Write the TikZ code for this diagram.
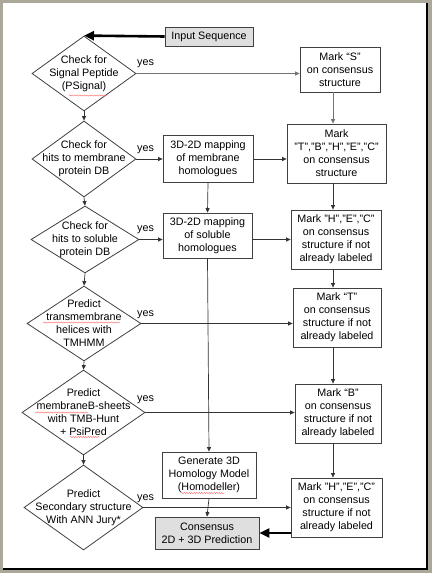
\documentclass[tikz,border=0pt]{standalone}
\usepackage{fontspec}
\setmainfont{Liberation Sans}
\usetikzlibrary{shapes.geometric,arrows.meta,decorations.pathmorphing}
\definecolor{framegray}{RGB}{172,168,153}
\begin{document}
\begin{tikzpicture}[x=1bp,y=-1bp,
	font=\fontsize{10.8}{13}\selectfont,
	box/.style={draw=black!75, line width=0.8pt, rectangle, inner sep=0pt, align=center},
	greybox/.style={box, fill=gray!25},
	dia/.style={draw=black!75, line width=0.8pt, diamond, inner sep=0pt},
	diatext/.style={align=center, inner sep=0pt},
	yeslbl/.style={anchor=west, inner sep=0pt},
	arr/.style={draw=black!80, line width=0.7pt, -{Triangle[length=4.5bp,width=4bp]}},
	lightarr/.style={arr, draw=black!55},
	bigarr/.style={draw=black, line width=2.6bp, -{Triangle[length=10bp,width=9bp]}},
	squiggle/.style={draw=red!60, line width=0.4pt, decorate, decoration={snake, amplitude=0.6bp, segment length=2.5bp}}]
	\useasboundingbox (0,0) rectangle (432,573);
	\fill [framegray] (0,0) rectangle (432,573);
	\fill [white] (3,3) rectangle (427,569);
	\draw [black, line width=2bp] (427,3) -- (427,569) -- (3,569);
	% left column: the checks
	\node [greybox, minimum width=88bp, minimum height=19bp] (input) at (209,36.5) {Input Sequence};
	\node [dia, minimum width=104bp, minimum height=75bp] (sig) at (84,73.5) {};
	\node [diatext] (sigtxt) at (sig) {Check for\\Signal Peptide\\(PSignal)};
	\node [dia, minimum width=104bp, minimum height=76bp] (memdb) at (84,159) {};
	\node [diatext] (memdbtxt) at (memdb) {Check for\\hits to membrane\\protein DB};
	\node [dia, minimum width=108bp, minimum height=67bp] (soldb) at (85,239.5) {};
	\node [diatext] (soldbtxt) at (soldb) {Check for\\hits to soluble\\protein DB};
	\node [dia, minimum width=114bp, minimum height=75bp] (tmhmm) at (84,323.5) {};
	\node [diatext] (tmhmmtxt) at (tmhmm) {Predict\\transmembrane\\helices with\\TMHMM};
	\node [dia, minimum width=123bp, minimum height=85bp] (tmb) at (83.5,412.5) {};
	\node [diatext] (tmbtxt) at (tmb) {Predict\\membraneB-sheets\\with TMB-Hunt\\+ PsiPred};
	\node [dia, minimum width=119bp, minimum height=85bp] (ann) at (83.5,507.5) {};
	\node [diatext] (anntxt) at (ann) {Predict\\Secondary structure\\With ANN Jury*};
	% middle column
	\node [box, minimum width=90bp, minimum height=47bp] (mapmem) at (208,158.5) {3D-2D mapping\\of membrane\\homologues};
	\node [box, minimum width=89bp, minimum height=45bp] (mapsol) at (207.5,235.5) {3D-2D mapping\\of soluble\\homologues};
	\node [box, minimum width=94bp, minimum height=46bp] (homol) at (209,475) {Generate 3D\\Homology Model\\(Homodeller)};
	\node [greybox, minimum width=104bp, minimum height=32bp] (cons) at (207,533) {Consensus\\2D + 3D Prediction};
	% right column: marks
	\node [box, minimum width=80bp, minimum height=45bp] (markS) at (340,69.5) {Mark “S”\\on consensus\\structure};
	\node [box, minimum width=99bp, minimum height=59bp] (markTB) at (336.5,153.5) {Mark\\"T","B","H","E","C"\\on consensus\\structure};
	\node [box, minimum width=90bp, minimum height=59bp] (markHa) at (336,239.5) {Mark "H","E","C"\\on consensus\\structure if not\\already labeled};
	\node [box, minimum width=88bp, minimum height=59bp] (markT) at (337,317.5) {Mark “T”\\on consensus\\structure if not\\already labeled};
	\node [box, minimum width=86bp, minimum height=59bp] (markB) at (338,413.5) {Mark “B”\\on consensus\\structure if not\\already labeled};
	\node [box, minimum width=91bp, minimum height=59bp] (markHb) at (336.5,507.5) {Mark "H","E","C"\\on consensus\\structure if not\\already labeled};
	\coordinate (colx) at (333,0);
	% spell-check marks
	\draw [squiggle] (69,95.5) -- (107,95.5);
	\draw [squiggle] (43,322.5) -- (120,322.5);
	\draw [squiggle] (35,412.5) -- (88,412.5);
	\draw [squiggle] (70,437) -- (100,437);
	\draw [squiggle] (181,493) -- (225,493);
	% yes labels
	\node [yeslbl] (yes1) at (137,64) {yes};
	\node [yeslbl] (yes2) at (137,150) {yes};
	\node [yeslbl] (yes3) at (137,230) {yes};
	\node [yeslbl] (yes4) at (137,315) {yes};
	\node [yeslbl] (yes5) at (137,400) {yes};
	\node [yeslbl] (yes6) at (137,499) {yes};
	% connectors
	\draw [bigarr] (input.west) -- (sig.north);
	\draw [lightarr] (sig.east) -- (sig.east -| markS.west);
	\draw [arr] (sig.south) -- (memdb.north);
	\draw [arr] (memdb.east) -- (memdb.east -| mapmem.west);
	\draw [arr] (memdb.south) -- (soldb.north);
	\draw [arr] (soldb.east) -- (soldb.east -| mapsol.west);
	\draw [arr] (soldb.south) -- (tmhmm.north);
	\draw [arr] (tmhmm.east) -- (tmhmm.east -| markT.west);
	\draw [arr] (tmhmm.south) -- (tmb.north);
	\draw [arr] (tmb.east) -- (tmb.east -| markB.west);
	\draw [arr] (tmb.south) -- (ann.north);
	\draw [arr] (ann.east) -- (ann.east -| markHb.west);
	\draw [arr] (mapmem.east |- memdb.east) -- (memdb.east -| markTB.west);
	\draw [arr] (mapmem.south) -- (mapsol.north);
	\draw [arr] (mapsol.east |- soldb.east) -- (soldb.east -| markHa.west);
	\draw [arr] (mapsol.south) -- (homol.north);
	\draw [arr] (homol.south) -- (cons.north);
	\draw [lightarr] (markS.south -| colx) -- (markTB.north -| colx);
	\draw [arr] (markTB.south -| colx) -- (markHa.north -| colx);
	\draw [arr] (markHa.south -| colx) -- (markT.north -| colx);
	\draw [arr] (markT.south -| colx) -- (markB.north -| colx);
	\draw [arr] (markB.south -| colx) -- (markHb.north -| colx);
	\draw [bigarr] (cons.east -| markHb.west) -- (cons.east);
\end{tikzpicture}
\end{document}
